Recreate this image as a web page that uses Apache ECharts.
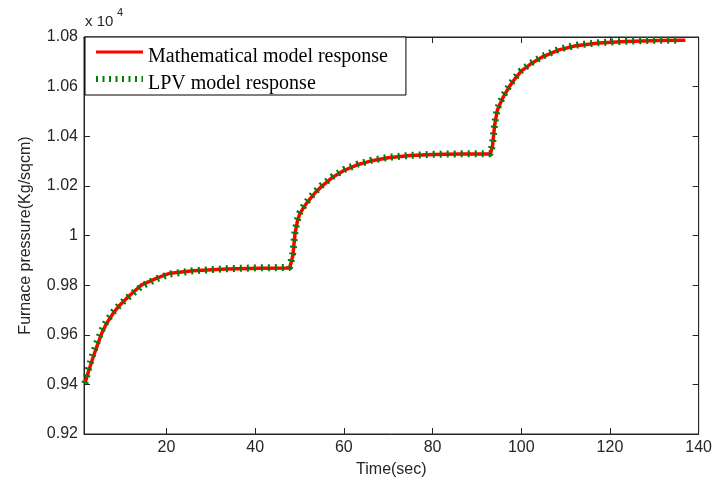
<!DOCTYPE html>
<html>
<head>
<meta charset="utf-8">
<script src="https://cdn.jsdelivr.net/npm/echarts@6/dist/echarts.min.js"></script>
<style>
html,body{margin:0;padding:0;background:#fff;}
#chart{width:715px;height:486px;}
</style>
</head>
<body>
<div id="chart"></div>
<script>
// Time (sec) and furnace pressure (x 10^4 Kg/sqcm)
var mathTime = [1.6,2.4,3.5,4.3,5.4,6.5,8.0,9.5,11.8,14.4,17.8,20.8,26.0,33.5,41.0,47.8,
  48.0,48.5,49.0,49.5,50.0,51.0,52.0,53.5,55.0,57.5,60.0,63.0,66.0,70.0,75.0,80.0,86.0,93.0,
  93.5,94.0,94.6,95.2,96.0,97.3,98.5,100.0,102.0,104.8,108.5,112.3,117.5,123.5,131.0,137.0];
var mathValues = [0.9404,0.9451,0.9512,0.9552,0.9606,0.9646,0.9687,0.9720,0.9760,0.9801,0.9828,0.9848,0.9858,0.9865,0.9868,0.9869,
  0.9870,0.9920,1.0010,1.0055,1.0085,1.0115,1.0140,1.0172,1.0198,1.0235,1.0262,1.0285,1.0300,1.0313,1.0322,1.0326,1.0328,1.0328,
  1.0358,1.0445,1.0505,1.0530,1.0560,1.0600,1.0630,1.0662,1.0690,1.0720,1.0748,1.0765,1.0776,1.0782,1.0786,1.0787];
var lpvTime = [1.6,2.4,3.5,4.3,5.4,6.5,8.0,9.5,11.8,14.4,17.8,20.8,26.0,33.5,41.0,47.8,
  48.0,48.5,49.0,49.5,50.0,51.0,52.0,53.5,55.0,57.5,60.0,63.0,66.0,70.0,75.0,80.0,86.0,93.0,
  93.5,94.0,94.6,95.2,96.0,97.3,98.5,100.0,102.0,104.8,108.5,112.3,117.5,123.5,131.0,136.0];
var lpvValues = [0.9404,0.9462,0.9528,0.9568,0.9618,0.9655,0.9692,0.9722,0.9758,0.9796,0.9826,0.9845,0.9858,0.9866,0.9870,0.9871,
  0.9872,0.9930,1.0018,1.0062,1.0090,1.0120,1.0145,1.0176,1.0202,1.0238,1.0265,1.0287,1.0302,1.0315,1.0323,1.0327,1.0329,1.0329,
  1.0365,1.0452,1.0510,1.0535,1.0565,1.0604,1.0634,1.0665,1.0693,1.0722,1.0750,1.0767,1.0777,1.0783,1.0787,1.0787];
var xTicks = [20,40,60,80,100,120,140];
var yTicks = [0.92,0.94,0.96,0.98,1,1.02,1.04,1.06,1.08];
var seriesNames = ['Mathematical model response','LPV model response'];

function zip(a,b){var r=[];for(var i=0;i<a.length;i++){r.push([a[i],b[i]]);}return r;}

var AX = '#262626';
var TF = 'Liberation Sans';
var chart = echarts.init(document.getElementById('chart'), null, {renderer:'canvas'});
var xMin = 1.4, xMax = 140, yMin = yTicks[0], yMax = yTicks[yTicks.length-1];
var clear = 'rgba(0,0,0,0)';
chart.setOption({
  animation:false,
  backgroundColor:'#fff',
  grid:{left:84,right:15,top:37,bottom:52,show:true,borderColor:AX,borderWidth:1,backgroundColor:'transparent'},
  graphic:[
    {type:'text',left:85,top:14,style:{text:'x 10',fontFamily:TF,fontSize:15,fill:AX}},
    {type:'text',left:117,top:7,style:{text:'4',fontFamily:TF,fontSize:11,fill:AX}}
  ],
  legend:{
    orient:'vertical',left:85,top:37,
    padding:[0,18,1,8],
    itemGap:-3,itemWidth:47,itemHeight:14,itemTextGap:5,
    backgroundColor:'#fff',borderColor:'#000',borderWidth:1,
    itemStyle:{color:clear,borderColor:clear,borderWidth:0},
    formatter:function(n){return '{a|'+n+'}';},
    textStyle:{fontFamily:'Liberation Serif',fontSize:20,color:'#000',
      rich:{a:{fontFamily:'Liberation Serif',fontSize:20,color:'#000',lineHeight:16,padding:[10,0,0,0]}}},
    data:[
      {name:seriesNames[0],itemStyle:{color:clear,borderColor:clear,borderWidth:0},lineStyle:{color:'#ff0000',width:3,type:'solid'}},
      {name:seriesNames[1],itemStyle:{color:clear,borderColor:clear,borderWidth:0},lineStyle:{color:'#008000',width:6,type:[2,4.5],cap:'butt'}}
    ]
  },
  xAxis:[
    {type:'value',min:xMin,max:xMax,position:'bottom',
     name:'Time(sec)',nameLocation:'middle',nameGap:28,
     nameTextStyle:{fontFamily:TF,fontSize:16,color:AX},
     axisLine:{show:true,lineStyle:{color:AX,width:1}},
     axisTick:{show:true,inside:true,length:6,lineStyle:{color:AX},customValues:xTicks},
     axisLabel:{show:true,margin:6,customValues:xTicks,formatter:function(v){return String(v);},fontFamily:TF,fontSize:16,color:AX},
     splitLine:{show:false}},
    {type:'value',min:xMin,max:xMax,position:'top',
     axisLine:{show:true,lineStyle:{color:AX,width:1}},
     axisTick:{show:true,inside:true,length:6,lineStyle:{color:AX},customValues:xTicks},
     axisLabel:{show:false},splitLine:{show:false}}
  ],
  yAxis:[
    {type:'value',min:yMin,max:yMax,position:'left',
     name:'Furnace pressure(Kg/sqcm)',nameLocation:'middle',nameGap:50,
     nameTextStyle:{fontFamily:TF,fontSize:16,color:AX},
     axisLine:{show:true,lineStyle:{color:AX,width:1}},
     axisTick:{show:true,inside:true,length:6,lineStyle:{color:AX},customValues:yTicks},
     axisLabel:{show:true,margin:6,customValues:yTicks,formatter:function(v){return String(+v.toFixed(2));},fontFamily:TF,fontSize:16,color:AX},
     splitLine:{show:false}},
    {type:'value',min:yMin,max:yMax,position:'right',
     axisLine:{show:true,lineStyle:{color:AX,width:1}},
     axisTick:{show:true,inside:true,length:6,lineStyle:{color:AX},customValues:yTicks},
     axisLabel:{show:false},splitLine:{show:false}}
  ],
  series:[
    {name:seriesNames[0],type:'line',xAxisIndex:0,yAxisIndex:0,symbol:'none',smooth:false,
     lineStyle:{color:'#ff0000',width:3.5},itemStyle:{color:'#ff0000'},
     data:zip(mathTime,mathValues),z:2},
    {name:seriesNames[1],type:'line',xAxisIndex:0,yAxisIndex:0,symbol:'none',smooth:false,
     lineStyle:{color:'#008000',width:7,type:[2,5],cap:'butt'},itemStyle:{color:'#008000'},
     data:zip(lpvTime,lpvValues),z:3}
  ]
});
</script>
</body>
</html>
